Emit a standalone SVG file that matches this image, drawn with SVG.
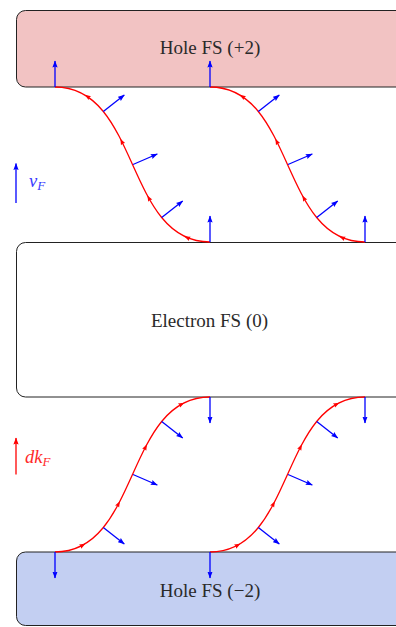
<svg xmlns="http://www.w3.org/2000/svg" xmlns:xlink="http://www.w3.org/1999/xlink" width="396" height="627" viewBox="0 0 396 627">
  <style>
    .box { stroke: #222; stroke-width: 1; }
    .lbl { font-family: "Liberation Serif", "DejaVu Serif", serif; font-size: 19px; fill: #2a2a2a; text-anchor: middle; }
    .curve { fill: none; stroke: #ff0000; stroke-width: 1.3; }
    .vec { stroke: #0000ff; stroke-width: 1.3; fill: none; marker-end: url(#ab); }
    .rvec { stroke: #ff0000; stroke-width: 1.3; fill: none; marker-end: url(#ar); }
    .math { font-family: "Liberation Serif", "DejaVu Serif", serif; font-style: italic; }
  </style>
  <defs>
    <marker id="ab" markerWidth="8" markerHeight="6" refX="6.5" refY="3" orient="auto" markerUnits="userSpaceOnUse">
      <path d="M0,0.4 L7,3 L0,5.6 L1,3 Z" fill="#0000ff"/>
    </marker>
    <marker id="ar" markerWidth="8" markerHeight="6" refX="6.5" refY="3" orient="auto" markerUnits="userSpaceOnUse">
      <path d="M0,0.4 L7,3 L0,5.6 L1,3 Z" fill="#ff0000"/>
    </marker>
    <path id="rh" d="M3.2,0 L-2.8,-2.3 L-2,0 L-2.8,2.3 Z" fill="#ff0000"/>
  </defs>

  <g id="hole-fs-plus2">
    <rect class="box" x="16.5" y="10.5" width="420" height="76.5" rx="9" ry="9" fill="#f2c3c3"/>
    <text class="lbl" x="210" y="54">Hole FS (+2)</text>
  </g>

  <g id="electron-fs-0">
    <rect class="box" x="16.5" y="242.5" width="420" height="154.5" rx="9" ry="9" fill="#ffffff"/>
    <text class="lbl" x="209.5" y="326.5">Electron FS (0)</text>
  </g>

  <g id="hole-fs-minus2">
    <rect class="box" x="16.5" y="552" width="420" height="73.5" rx="9" ry="9" fill="#c3cff2"/>
    <text class="lbl" x="210" y="596.5">Hole FS (−2)</text>
  </g>

  <g id="connectors">
    <path class="curve" d="M55,87 C140,87 125,242 210,242"/>
    <path class="curve" d="M210,87 C295,87 280,242 365,242"/>
    <path class="curve" d="M55,552 C140,552 125,397 210,397"/>
    <path class="curve" d="M210,552 C295,552 280,397 365,397"/>

    <use xlink:href="#rh" transform="translate(87.5,96.5) rotate(213.6)"/>
    <use xlink:href="#rh" transform="translate(121.8,141.6) rotate(243.6)"/>
    <use xlink:href="#rh" transform="translate(148.9,198.3) rotate(240.8)"/>
    <use xlink:href="#rh" transform="translate(187.3,237.7) rotate(202.6)"/>
    <use xlink:href="#rh" transform="translate(242.5,96.5) rotate(213.6)"/>
    <use xlink:href="#rh" transform="translate(276.8,141.6) rotate(243.6)"/>
    <use xlink:href="#rh" transform="translate(303.9,198.3) rotate(240.8)"/>
    <use xlink:href="#rh" transform="translate(342.3,237.7) rotate(202.6)"/>

    <use xlink:href="#rh" transform="translate(82.6,545.3) rotate(-28.2)"/>
    <use xlink:href="#rh" transform="translate(118.4,504) rotate(-62)"/>
    <use xlink:href="#rh" transform="translate(145.5,447.2) rotate(-62.6)"/>
    <use xlink:href="#rh" transform="translate(181.5,404.2) rotate(-29.3)"/>
    <use xlink:href="#rh" transform="translate(237.6,545.3) rotate(-28.2)"/>
    <use xlink:href="#rh" transform="translate(273.4,504) rotate(-62)"/>
    <use xlink:href="#rh" transform="translate(300.5,447.2) rotate(-62.6)"/>
    <use xlink:href="#rh" transform="translate(336.5,404.2) rotate(-29.3)"/>

    <line class="vec" x1="55" y1="87" x2="55" y2="61"/>
    <line class="vec" x1="210" y1="87" x2="210" y2="61"/>
    <line class="vec" x1="210" y1="242" x2="210" y2="216"/>
    <line class="vec" x1="365" y1="242" x2="365" y2="216"/>
    <line class="vec" x1="103.3" y1="111.5" x2="124.3" y2="95"/>
    <line class="vec" x1="133" y1="164.5" x2="157.3" y2="154"/>
    <line class="vec" x1="161.7" y1="217.5" x2="182.7" y2="201"/>
    <line class="vec" x1="258.3" y1="111.5" x2="279.3" y2="95"/>
    <line class="vec" x1="288" y1="164.5" x2="312.3" y2="154"/>
    <line class="vec" x1="316.7" y1="217.5" x2="337.7" y2="201"/>

    <line class="vec" x1="210" y1="397" x2="210" y2="423"/>
    <line class="vec" x1="365" y1="397" x2="365" y2="423"/>
    <line class="vec" x1="55" y1="552" x2="55" y2="578"/>
    <line class="vec" x1="210" y1="552" x2="210" y2="578"/>
    <line class="vec" x1="103.3" y1="527.5" x2="124.3" y2="544"/>
    <line class="vec" x1="133" y1="474.5" x2="157.3" y2="485"/>
    <line class="vec" x1="161.7" y1="421.5" x2="182.7" y2="438"/>
    <line class="vec" x1="258.3" y1="527.5" x2="279.3" y2="544"/>
    <line class="vec" x1="288" y1="474.5" x2="312.3" y2="485"/>
    <line class="vec" x1="316.7" y1="421.5" x2="337.7" y2="438"/>
  </g>

  <g id="legend-vF">
    <line class="vec" x1="16" y1="203" x2="16" y2="163.5"/>
    <text class="math" x="29" y="187" font-size="18.5" fill="#3a3aff">v<tspan font-size="13" dy="2.5">F</tspan></text>
  </g>

  <g id="legend-dkF">
    <line class="rvec" x1="16" y1="474.5" x2="16" y2="438"/>
    <text class="math" x="25" y="463" font-size="18.5" fill="#ff2a2a">dk<tspan font-size="13" dy="2.5">F</tspan></text>
  </g>
</svg>
